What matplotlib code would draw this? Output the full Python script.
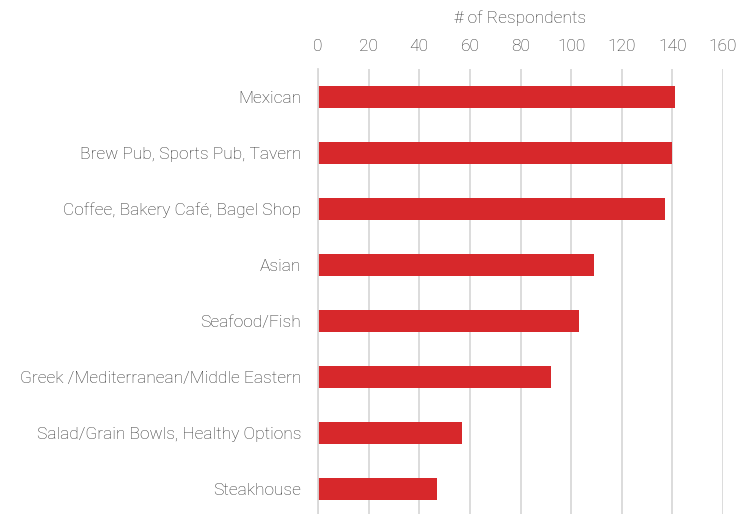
import matplotlib
matplotlib.use('Agg')
import matplotlib.pyplot as plt

categories = ['Mexican', 'Brew Pub, Sports Pub, Tavern', 'Coffee, Bakery Café, Bagel Shop',
              'Asian', 'Seafood/Fish', 'Greek /Mediterranean/Middle Eastern',
              'Salad/Grain Bowls, Healthy Options', 'Steakhouse']
respondents = [141, 140, 137, 109, 103, 92, 57, 47]
x_ticks = [0, 20, 40, 60, 80, 100, 120, 140, 160]

plt.rcParams['font.family'] = ['Roboto', 'DejaVu Sans']
text_color = '#333333'

W, H = 753, 514
fig = plt.figure(figsize=(W / 100, H / 100), dpi=100)
ax = fig.add_axes([318 / W, (H - 69 - 448) / H, (723 - 318) / W, 448 / H])

ax.barh(range(len(categories)), respondents, height=0.39, color='#d7282b')
ax.set_ylim(len(categories) - 0.5, -0.5)
ax.set_xlim(0, 160)

ax.set_yticks(range(len(categories)))
ax.set_yticklabels(categories)
ax.set_xticks(x_ticks)
ax.xaxis.tick_top()
ax.xaxis.set_label_position('top')
ax.set_xlabel('# of Respondents', color=text_color, fontsize=12.5, fontweight='light', labelpad=11)

ax.tick_params(axis='both', length=0, colors=text_color, labelsize=12.5)
ax.tick_params(axis='x', pad=11)
ax.tick_params(axis='y', pad=12)
for lab in ax.get_xticklabels() + ax.get_yticklabels():
    lab.set_fontweight('light')

ax.grid(axis='x', color='#d9d9d9', linewidth=1.3)
ax.set_axisbelow(True)
for side in ['top', 'right', 'bottom']:
    ax.spines[side].set_visible(False)
ax.spines['left'].set_color('#d9d9d9')
ax.spines['left'].set_linewidth(1.3)

fig.savefig('out.png', dpi=100)
